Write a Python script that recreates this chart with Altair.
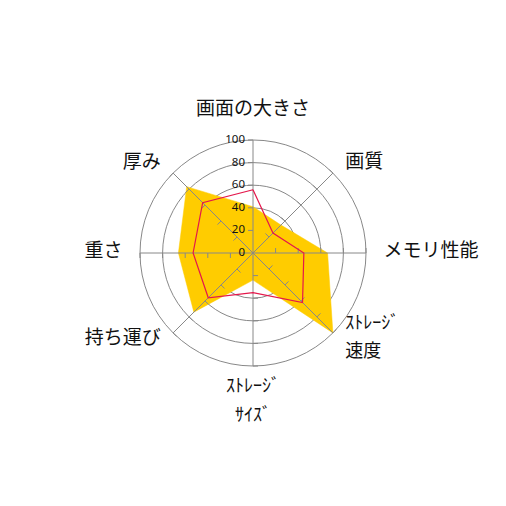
import math
import numpy as np
import pandas as pd
import altair as alt

# ---- data -------------------------------------------------------------
categories = ["画面の大きさ", "画質", "メモリ性能", "ｽﾄﾚｰｼﾞ速度",
              "ｽﾄﾚｰｼﾞｻｲｽﾞ", "持ち運び", "重さ", "厚み"]
category_labels = ["画面の大きさ", "画質", "メモリ性能", "ｽﾄﾚｰｼﾞ\n速度",
                   "ｽﾄﾚｰｼﾞ\nｻｲｽﾞ", "持ち運び", "重さ", "厚み"]
series_fill = [41, 35, 66, 100, 24, 74, 66, 83]   # yellow area
series_line = [56, 25, 45, 62, 35, 56, 53, 63]    # red outline
grid_values = [20, 40, 60, 80, 100]
tick_values = [0, 20, 40, 60, 80, 100]
tick_labels = ["0", "20", "40", "60", "80", "100"]

# ---- layout / style ---------------------------------------------------
W = H = 490
PX = 1.13                      # pixels per value unit
D = (W / 2) / PX
GRAY = "#888888"
YELLOW = "#FFCC00"
RED = "#E4174B"
FONT = "Noto Sans CJK JP"
TICK_LEN = 5 / PX
LINE_H = 28.5

n = len(categories)
angles = [2 * math.pi * i / n for i in range(n)]
xs = alt.Scale(domain=[-D, D])
ys = alt.Scale(domain=[-D, D])


def polygon(values):
    rows = []
    for k in range(n + 1):
        i = k % n
        rows.append({"order": k,
                     "x": values[i] * math.sin(angles[i]),
                     "y": values[i] * math.cos(angles[i])})
    return pd.DataFrame(rows)


def xy(field_x, field_y):
    return dict(x=alt.X(f"{field_x}:Q", scale=xs, axis=None),
                y=alt.Y(f"{field_y}:Q", scale=ys, axis=None))


# grid circles
circles = alt.Chart(pd.DataFrame({"r": grid_values})).mark_arc(
    filled=False, stroke=GRAY, strokeWidth=1, theta=0, theta2=2 * math.pi
).encode(
    radius=alt.Radius("r:Q", stack=False,
                      scale=alt.Scale(type="linear", domain=[0, 100],
                                      range=[0, 100 * PX]))
)

# filled yellow series
area = alt.Chart(polygon(series_fill)).mark_line(
    fill=YELLOW, stroke=YELLOW, strokeWidth=0.5
).encode(order="order:Q", **xy("x", "y"))

# spokes
maxv = max(grid_values)
spk = pd.DataFrame({
    "x0": [0.0] * n, "y0": [0.0] * n,
    "x1": [maxv * math.sin(a) for a in angles],
    "y1": [maxv * math.cos(a) for a in angles],
})
spokes = alt.Chart(spk).mark_rule(stroke=GRAY, strokeWidth=1).encode(
    x=alt.X("x0:Q", scale=xs, axis=None), y=alt.Y("y0:Q", scale=ys, axis=None),
    x2="x1:Q", y2="y1:Q")

# small ticks on every spoke
trows = []
for a in angles:
    s, c = math.sin(a), math.cos(a)
    for v in grid_values:
        bx, by = v * s, v * c
        trows.append({"x0": bx, "y0": by,
                      "x1": bx - TICK_LEN * c, "y1": by + TICK_LEN * s})
ticks = alt.Chart(pd.DataFrame(trows)).mark_rule(stroke=GRAY, strokeWidth=1).encode(
    x=alt.X("x0:Q", scale=xs, axis=None), y=alt.Y("y0:Q", scale=ys, axis=None),
    x2="x1:Q", y2="y1:Q")

# red line series
line = alt.Chart(polygon(series_line)).mark_line(
    stroke=RED, strokeWidth=1.2
).encode(order="order:Q", **xy("x", "y"))

# value labels on the top spoke
tl = pd.DataFrame({"x": [-8 / PX] * len(tick_values), "y": tick_values,
                   "t": tick_labels})
tick_text = alt.Chart(tl).mark_text(
    align="right", baseline="middle", fontSize=11.5, font="Noto Sans", color="#111111"
).encode(text="t:N", **xy("x", "y"))

# category labels
lrows = []
for a, lab in zip(angles, category_labels):
    s, c = math.sin(a), math.cos(a)
    nlines = lab.count("\n") + 1
    dx_px = 17.5 * s
    dy_px = float(np.interp(c, [-1, -0.7071, 0, 0.7071, 1], [-34, -3.5, 4, 13, 32.5])) - 1.5
    dy_px += (nlines - 1) * LINE_H / 2          # centre multi-line blocks
    align = "left" if s > 0.3 else ("right" if s < -0.3 else "center")
    lrows.append({"x": maxv * s + dx_px / PX, "y": maxv * c + dy_px / PX,
                  "t": lab, "align": align, "multi": nlines > 1})
ldf = pd.DataFrame(lrows)
label_layers = []
for al in ["left", "center", "right"]:
    for multi in [False, True]:
        sub = ldf[(ldf["align"] == al) & (ldf["multi"] == multi)]
        if len(sub) == 0:
            continue
        label_layers.append(
            alt.Chart(sub).mark_text(
                align=al, baseline="middle", font=FONT,
                fontSize=18 if multi else 19,
                lineBreak="\n", lineHeight=LINE_H, color="#111111"
            ).encode(text="t:N", **xy("x", "y"))
        )

chart = alt.layer(circles, area, spokes, ticks, line, tick_text, *label_layers).properties(
    width=W, height=H, autosize="none", padding=0
).configure_view(stroke="transparent")

chart.save("out.html", embed_options={"renderer": "svg", "actions": False})
